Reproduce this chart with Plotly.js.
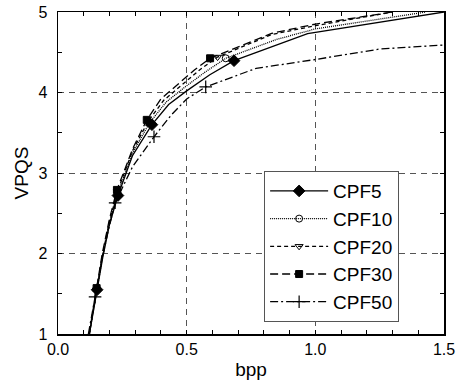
<!DOCTYPE html>
<html>
<head>
<meta charset="utf-8">
<script src="https://cdn.plot.ly/plotly-3.0.1.min.js"></script>
<style>html,body{margin:0;padding:0;background:#fff}#chart{width:459px;height:386px}</style>
</head>
<body>
<div id="chart"></div>
<script>
// Series names
const names = ["CPF5", "CPF10", "CPF20", "CPF30", "CPF50"];

// Full curves (bpp, VPQS)
const cpf5X  = [0.122, 0.152, 0.175, 0.200, 0.233, 0.290, 0.365, 0.430, 0.500, 0.590, 0.684, 0.970, 1.500];
const cpf5Y  = [1.00, 1.55, 1.97, 2.36, 2.72, 3.22, 3.60, 3.85, 4.02, 4.22, 4.395, 4.73, 5.00];
const cpf10X = [0.122, 0.151, 0.174, 0.200, 0.232, 0.290, 0.355, 0.420, 0.490, 0.570, 0.652, 0.850, 1.000, 1.430];
const cpf10Y = [1.00, 1.56, 1.98, 2.38, 2.75, 3.25, 3.62, 3.88, 4.06, 4.25, 4.425, 4.66, 4.79, 5.00];
const cpf20X = [0.122, 0.150, 0.173, 0.200, 0.231, 0.290, 0.350, 0.410, 0.480, 0.550, 0.620, 0.830, 1.000, 1.300];
const cpf20Y = [1.00, 1.55, 1.98, 2.40, 2.77, 3.28, 3.64, 3.90, 4.09, 4.28, 4.44, 4.72, 4.83, 5.00];
const cpf30X = [0.121, 0.150, 0.172, 0.200, 0.229, 0.290, 0.345, 0.400, 0.470, 0.530, 0.591, 0.830, 1.000, 1.300];
const cpf30Y = [1.00, 1.57, 2.00, 2.43, 2.79, 3.30, 3.66, 3.92, 4.12, 4.28, 4.425, 4.735, 4.85, 5.00];
const cpf50X = [0.118, 0.144, 0.168, 0.195, 0.222, 0.290, 0.373, 0.440, 0.500, 0.574, 0.770, 1.000, 1.250, 1.500];
const cpf50Y = [1.00, 1.46, 1.88, 2.28, 2.63, 3.08, 3.45, 3.72, 3.92, 4.07, 4.30, 4.41, 4.54, 4.59];

// Marked points (bpp, VPQS)
const cpf5MX  = [0.152, 0.233, 0.365, 0.684];
const cpf5MY  = [1.55, 2.72, 3.60, 4.395];
const cpf10MX = [0.151, 0.232, 0.355, 0.652];
const cpf10MY = [1.56, 2.75, 3.62, 4.425];
const cpf20MX = [0.150, 0.231, 0.350, 0.620];
const cpf20MY = [1.55, 2.77, 3.64, 4.44];
const cpf30MX = [0.150, 0.229, 0.345, 0.591];
const cpf30MY = [1.57, 2.79, 3.66, 4.425];
const cpf50MX = [0.144, 0.222, 0.373, 0.574];
const cpf50MY = [1.46, 2.63, 3.45, 4.07];

const xTickVals = [0.0, 0.5, 1.0, 1.5];
const xTickText = ["0.0", "0.5", "1.0", "1.5"];
const yTickVals = [1, 2, 3, 4, 5];
const yTickText = ["1", "2", "3", "4", "5"];

const curves = [[cpf5X, cpf5Y], [cpf10X, cpf10Y], [cpf20X, cpf20Y], [cpf30X, cpf30Y], [cpf50X, cpf50Y]];
const marks = [[cpf5MX, cpf5MY], [cpf10MX, cpf10MY], [cpf20MX, cpf20MY], [cpf30MX, cpf30MY], [cpf50MX, cpf50MY]];
const dashes = ["solid", "1px,1px", "4px,3px", "8px,4px", "8px,3px,2px,3px"];
const markers = [
  {symbol: "diamond", size: 9, color: "#000", line: {color: "#000", width: 1}},
  {symbol: "circle-open", size: 7, color: "#000", line: {color: "#000", width: 1}},
  {symbol: "triangle-down-open", size: 7, color: "#000", line: {color: "#000", width: 1}},
  {symbol: "square", size: 7, color: "#000", line: {color: "#000", width: 1}},
  {symbol: "cross-thin-open", size: 9, color: "#000", line: {color: "#000", width: 1.2}}
];

const traces = [];
names.forEach((n, i) => {
  traces.push({x: curves[i][0], y: curves[i][1], mode: "lines", showlegend: false,
    line: {color: "#000", width: 1.3, dash: dashes[i]}, hoverinfo: "skip"});
  traces.push({x: marks[i][0], y: marks[i][1], mode: "markers", showlegend: false,
    marker: markers[i], hoverinfo: "skip"});
  traces.push({x: [null], y: [null], mode: "lines+markers", name: n, showlegend: true,
    line: {color: "#000", width: 1.3, dash: dashes[i]}, marker: markers[i]});
});

const font = {family: "Liberation Sans, Arial, sans-serif", color: "#000"};
const layout = {
  width: 459, height: 386,
  margin: {l: 58, r: 15, t: 12, b: 52},
  paper_bgcolor: "#fff", plot_bgcolor: "#fff",
  font: Object.assign({size: 16}, font),
  showlegend: true,
  legend: {x: 0.534, y: 0.506, xanchor: "left", yanchor: "top",
    bgcolor: "#fff", bordercolor: "#555", borderwidth: 1,
    font: Object.assign({size: 19}, font), tracegroupgap: 0, itemwidth: 58},
  xaxis: {range: [0, 1.5], tickmode: "array", tickvals: xTickVals, ticktext: xTickText,
    ticks: "inside", ticklen: 4, tickcolor: "#000", showline: true, linecolor: "#000", linewidth: 1.5,
    mirror: "ticks", zeroline: false, showgrid: true, gridcolor: "#555", griddash: "6px,5px", gridwidth: 1,
    tickfont: Object.assign({size: 16}, font),
    minor: {dtick: 0.1, tick0: 0, ticks: "inside", ticklen: 4, tickcolor: "#000", showgrid: false},
    title: {text: "bpp", font: Object.assign({size: 19}, font), standoff: 6}},
  yaxis: {range: [1, 5], tickmode: "array", tickvals: yTickVals, ticktext: yTickText,
    ticks: "inside", ticklen: 4, tickcolor: "#000", showline: true, linecolor: "#000", linewidth: 1.5,
    mirror: "ticks", zeroline: false, showgrid: true, gridcolor: "#555", griddash: "6px,5px", gridwidth: 1,
    tickfont: Object.assign({size: 16}, font), ticklabelstandoff: 6,
    minor: {dtick: 0.5, tick0: 1, ticks: "inside", ticklen: 4, tickcolor: "#000", showgrid: false},
    title: {text: "VPQS", font: Object.assign({size: 19}, font), standoff: 4}}
};

Plotly.newPlot("chart", traces, layout, {displayModeBar: false, staticPlot: true});
</script>
</body>
</html>
